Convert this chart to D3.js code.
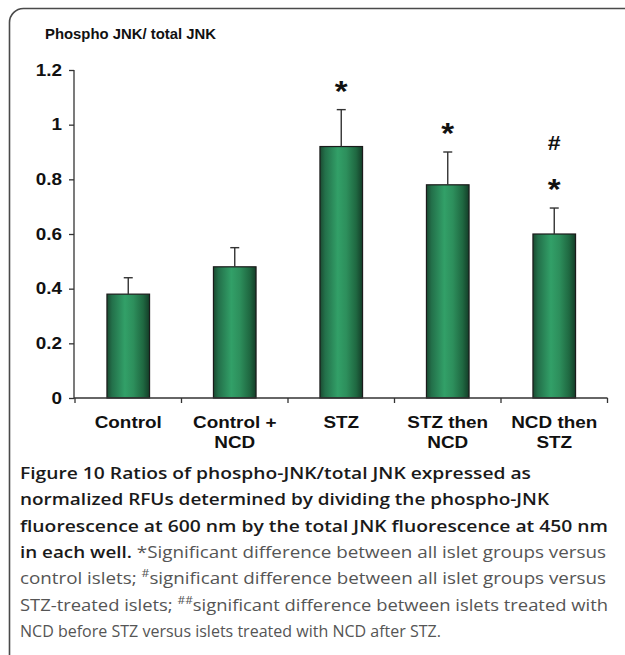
<!DOCTYPE html>
<html><head><meta charset="utf-8">
<script src="https://cdn.jsdelivr.net/npm/d3@7"></script>
<style>html,body{margin:0;padding:0;background:#fff;}</style>
</head><body>
<svg id="chart" width="625" height="655"></svg>
<script>
const categories = [["Control"], ["Control +", "NCD"], ["STZ"], ["STZ then", "NCD"], ["NCD then", "STZ"]];
const values = [0.38, 0.48, 0.92, 0.78, 0.60];
const errors = [0.06, 0.07, 0.135, 0.12, 0.095];
const marks = [[], [], ["*"], ["*"], ["*", "#"]];
const yTicks = [0, 0.2, 0.4, 0.6, 0.8, 1, 1.2];
const yTickLabels = ["0", "0.2", "0.4", "0.6", "0.8", "1", "1.2"];
const chartTitle = "Phospho JNK/ total JNK";

const svg = d3.select("#chart");
const K = 1.18; // horizontal stretch of chart fonts
function stretch(sel, k) {
  sel.each(function () {
    const w = this.getComputedTextLength();
    d3.select(this).attr("textLength", w * k).attr("lengthAdjust", "spacingAndGlyphs");
  });
}

// frame
svg.append("rect").attr("x", 9.5).attr("y", 8.5).attr("width", 720).attr("height", 720)
  .attr("rx", 14).attr("fill", "none").attr("stroke", "#4a4a4a").attr("stroke-width", 1.6);

// gradient
const defs = svg.append("defs");
const g1 = defs.append("linearGradient").attr("id", "barGrad").attr("x1", "0").attr("x2", "1").attr("y1", "0").attr("y2", "0");
[[0, "#1a4a31"], [0.12, "#23704a"], [0.42, "#32a068"], [0.62, "#2d8f5c"], [0.85, "#1f6841"], [1, "#143d28"]]
  .forEach(([o, c]) => g1.append("stop").attr("offset", o).attr("stop-color", c));

const x = d3.scaleBand().domain(d3.range(categories.length)).range([75, 607.5]).paddingInner(0).paddingOuter(0);
const y = d3.scaleLinear().domain([0, 1.2]).range([398, 70]);
const barW = x.bandwidth() * 0.4;

const fontChart = "'Liberation Sans', Arial, sans-serif";

// title
const t = svg.append("text").attr("x", 45).attr("y", 38.5).attr("font-family", fontChart)
  .attr("font-weight", "bold").attr("font-size", 15).attr("fill", "#111").text(chartTitle);
t.attr("textLength", 171).attr("lengthAdjust", "spacingAndGlyphs");

// bars
svg.append("g").selectAll("rect").data(values).join("rect")
  .attr("x", (d, i) => x(i) + (x.bandwidth() - barW) / 2)
  .attr("y", d => y(d))
  .attr("width", barW)
  .attr("height", d => y(0) - y(d))
  .attr("fill", "url(#barGrad)")
  .attr("stroke", "#1b1b1b").attr("stroke-width", 1.2);

// error bars
const eg = svg.append("g").attr("stroke", "#333").attr("stroke-width", 1.4);
values.forEach((v, i) => {
  const cx = x(i) + x.bandwidth() / 2;
  eg.append("line").attr("x1", cx).attr("x2", cx).attr("y1", y(v)).attr("y2", y(v + errors[i]));
  eg.append("line").attr("x1", cx - 4.5).attr("x2", cx + 4.5).attr("y1", y(v + errors[i])).attr("y2", y(v + errors[i]));
});

// significance marks
values.forEach((v, i) => {
  const cx = x(i) + x.bandwidth() / 2;
  const top = y(v + errors[i]);
  marks[i].forEach(m => {
    if (m === "*") {
      const s = svg.append("text").attr("x", cx).attr("y", top - 26 + 17).attr("text-anchor", "middle")
        .attr("font-family", fontChart).attr("font-weight", "bold").attr("font-size", 30).attr("fill", "#111").text(m);
      stretch(s, 1.1);
    } else {
      const s = svg.append("text").attr("x", cx).attr("y", top - 66 + 7.5).attr("text-anchor", "middle")
        .attr("font-family", fontChart).attr("font-weight", "bold").attr("font-size", 21).attr("fill", "#111").text(m);
      stretch(s, 1.1);
    }
  });
});

// y axis
const yAxis = svg.append("g").attr("transform", "translate(74,0)")
  .call(d3.axisLeft(y).tickValues(yTicks).tickFormat((d, i) => yTickLabels[i]).tickSize(5).tickPadding(7));
yAxis.select(".domain").attr("stroke", "#333").attr("stroke-width", 1.3).attr("d", `M-0,${y(1.2)}H0V${y(0)}`);
yAxis.selectAll(".tick line").attr("stroke", "#333").attr("stroke-width", 1.3);
yAxis.selectAll("text").attr("font-family", fontChart).attr("font-weight", "bold").attr("font-size", 16).attr("fill", "#111");
stretch(yAxis.selectAll("text"), K);

// x axis
const xAxisG = svg.append("g").attr("transform", `translate(0,${y(0)})`);
xAxisG.append("line").attr("x1", 74).attr("x2", 607.5).attr("y1", 0).attr("y2", 0).attr("stroke", "#333").attr("stroke-width", 1.3);
xAxisG.selectAll("line.tk").data(d3.range(categories.length + 1)).join("line").attr("class", "tk")
  .attr("x1", i => i < categories.length ? x(i) : x.range()[1]).attr("x2", i => i < categories.length ? x(i) : x.range()[1])
  .attr("y1", 0).attr("y2", 5).attr("stroke", "#333").attr("stroke-width", 1.3);
categories.forEach((lines, i) => {
  const cx = x(i) + x.bandwidth() / 2;
  lines.forEach((ln, j) => {
    const tx = xAxisG.append("text").attr("x", cx).attr("y", 29.5 + j * 20.5).attr("text-anchor", "middle")
      .attr("font-family", fontChart).attr("font-weight", "bold").attr("font-size", 16).attr("fill", "#111").text(ln);
    stretch(tx, K);
  });
});

// caption
const capFont = "'Open Sans', 'Noto Sans', sans-serif";
const capLines = [
  {parts: [{t: "Figure 10 Ratios of phospho-JNK/total JNK expressed as", b: true}], w: 511},
  {parts: [{t: "normalized RFUs determined by dividing the phospho-JNK", b: true}], w: 529},
  {parts: [{t: "fluorescence at 600 nm by the total JNK fluorescence at 450 nm", b: true}], w: 588},
  {parts: [{t: "in each well. ", b: true}, {t: "*Significant difference between all islet groups versus", b: false}], w: 586},
  {parts: [{t: "control islets; ", b: false}, {t: "#", b: false, sup: true}, {t: "significant difference between all islet groups versus", b: false}], w: 586},
  {parts: [{t: "STZ-treated islets; ", b: false}, {t: "##", b: false, sup: true}, {t: "significant difference between islets treated with", b: false}], w: 588},
  {parts: [{t: "NCD before STZ versus islets treated with NCD after STZ.", b: false}], w: 421}
];
capLines.forEach((L, i) => {
  const tx = svg.append("text").attr("x", 20).attr("y", 479 + i * 26.3)
    .attr("font-family", capFont).attr("font-size", 17);
  L.parts.forEach(p => {
    const ts = tx.append("tspan").text(p.t)
      .attr("font-weight", p.b ? 600 : 400)
      .attr("fill", p.b ? "#1a1a1a" : "#555");
    if (p.sup) ts.attr("font-size", 11).attr("baseline-shift", "super");
  });
  tx.attr("textLength", L.w).attr("lengthAdjust", "spacingAndGlyphs");
});
</script>
</body></html>
